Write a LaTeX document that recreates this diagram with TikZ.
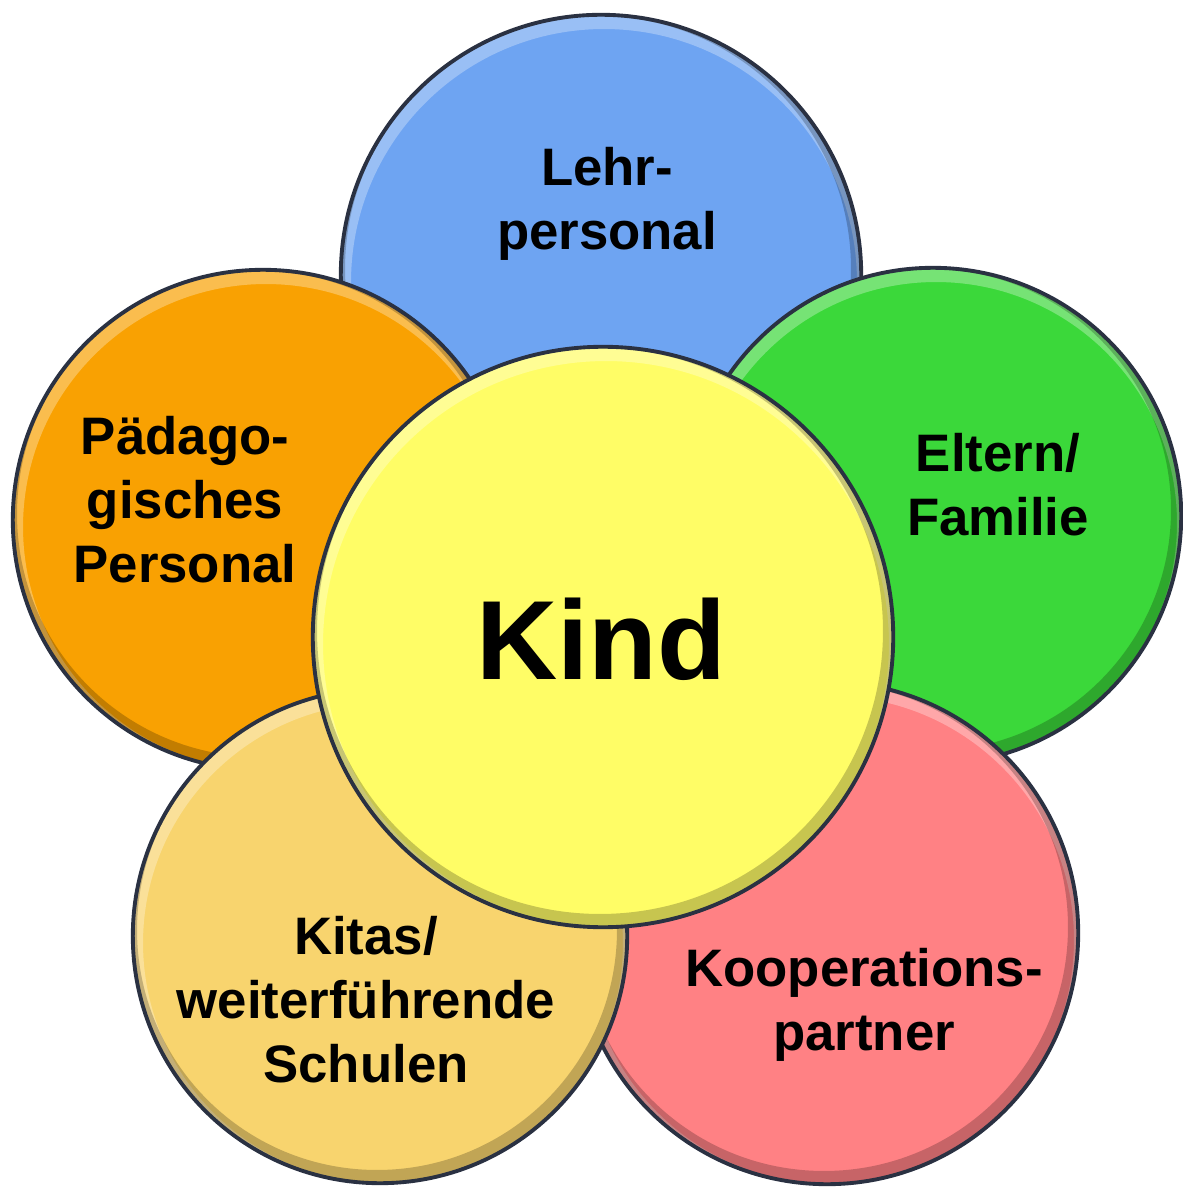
\documentclass[tikz,border=0pt]{standalone}
\usepackage{fontspec}
\setmainfont{Liberation Sans}
\usepackage{tikz}

\definecolor{rim}{HTML}{2A3142}
\definecolor{lehrblue}{HTML}{6EA4F2}
\definecolor{paedorange}{HTML}{F9A102}
\definecolor{elterngreen}{HTML}{3BD83A}
\definecolor{kindyellow}{HTML}{FFFD66}
\definecolor{kitaorange}{HTML}{F8D46E}
\definecolor{koopred}{HTML}{FF8184}

\tikzset{
    bubble/.style={circle, inner sep=0pt, draw=rim, line width=1.1pt,
        minimum size={0.02cm*#1},
        path picture={
            \draw[white, opacity=0.3, line width=4pt]
                ([shift={(3,7)}]path picture bounding box.center) circle[radius=#1];
            \draw[black, opacity=0.22, line width=4pt]
                ([shift={(-3,-6)}]path picture bounding box.center) circle[radius=#1];
        }},
    lbl/.style={align=center, font=\fontsize{15}{18.2}\selectfont\bfseries},
}

\begin{document}
\begin{tikzpicture}[x=0.01cm, y=-0.01cm]
    \useasboundingbox (0,0) rectangle (1182,1189);
    % outer circles, back to front
    \node[bubble=260, fill=lehrblue] (lehr) at (601,275) {};
    \node[bubble=248, fill=elterngreen] (eltern) at (933,516) {};
    \node[bubble=251, fill=koopred] (koop) at (827,933) {};
    \node[bubble=250, fill=paedorange] (paed) at (263,520) {};
    \node[bubble=247, fill=kitaorange] (kita) at (380,936) {};
    % centre
    \node[bubble=290, fill=kindyellow] (kind) at (603,637) {};

    \node[lbl] (lehrtxt) at (607,204) {Lehr-\\personal};
    \node[lbl] (paedtxt) at (185,500) {Pädago-\\gisches\\Personal};
    \node[lbl] (elterntxt) at (998,485) {Eltern/\\Familie};
    \node[lbl] (kitatxt) at (366,1000) {Kitas/\\weiterführende\\Schulen};
    \node[lbl] (kooptxt) at (864,1005) {Kooperations-\\partner};
    \node[font=\fontsize{32}{38}\selectfont\bfseries] (kindtxt) at (601,639) {Kind};
\end{tikzpicture}
\end{document}
